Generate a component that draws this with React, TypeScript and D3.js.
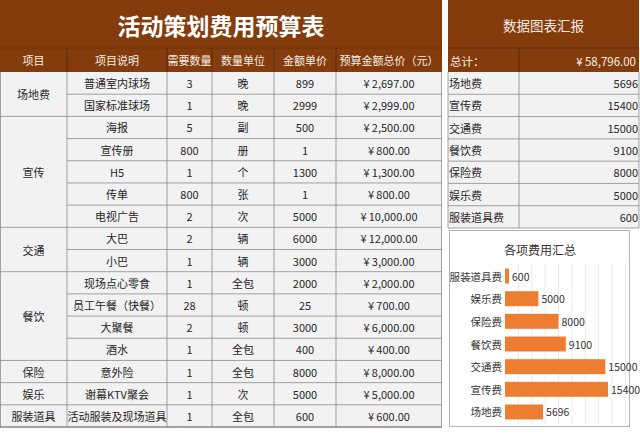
import React from 'react';
import * as d3 from 'd3';

const groups = ['场地费', '宣传', '交通', '餐饮', '保险', '娱乐', '服装道具'];
const groupSpans = [2, 5, 2, 4, 1, 1, 1];
const descriptions = ['普通室内球场', '国家标准球场', '海报', '宣传册', 'H5', '传单', '电视广告', '大巴', '小巴', '现场点心零食', '员工午餐（快餐）', '大聚餐', '酒水', '意外险', '谢幕KTV聚会', '活动服装及现场道具'];
const quantities = [3, 1, 5, 800, 1, 800, 2, 2, 1, 1, 28, 2, 1, 1, 1, 1];
const units = ['晚', '晚', '副', '册', '个', '张', '次', '辆', '辆', '全包', '顿', '顿', '全包', '全包', '次', '全包'];
const prices = [899, 2999, 500, 1, 1300, 1, 5000, 6000, 3000, 2000, 25, 3000, 400, 8000, 5000, 600];
const headers = ['项目', '项目说明', '需要数量', '数量单位', '金额单价', '预算金额总价（元）'];

const summaryLabels = ['场地费', '宣传费', '交通费', '餐饮费', '保险费', '娱乐费', '服装道具费'];
const summaryValues = [5696, 15400, 15000, 9100, 8000, 5000, 600];
const grandTotal = 58796;
const gridTicks = [2000, 4000, 6000, 8000, 10000, 12000, 14000, 16000, 18000];

const BROWN = '#843C0C';
const ORANGE = '#ED7D31';
const FONT = '"Noto Sans CJK SC", "Noto Sans", sans-serif';
const money = (v: number) => '¥\u2009' + d3.format(',.2f')(v);

export default function App() {
  const colX = [0, 67, 167, 212, 274, 336, 442];
  const rowTop = 72;
  const rowH = (427 - 72) / descriptions.length;
  const rowY = d3.range(descriptions.length + 1).map((i) => rowTop + i * rowH);
  const totals = quantities.map((q, i) => q * prices[i]);

  const groupStart: number[] = [];
  let acc = 0;
  groupSpans.forEach((s) => { groupStart.push(acc); acc += s; });

  const rpX0 = 448, rpX1 = 639, rpDiv = 519;
  const rpRowH = (228 - 72) / summaryLabels.length;

  const chartOrder = summaryLabels.slice().reverse();
  const y = d3.scaleBand<string>().domain(chartOrder).range([264.7, 423.3]).paddingInner(0.34).paddingOuter(0.17);
  const x = d3.scaleLinear().domain([0, 18000]).range([505, 625.4]);
  const valueOf = (l: string) => summaryValues[summaryLabels.indexOf(l)];

  const cell = { fontFamily: FONT, fontSize: 11, fill: '#262626' } as const;

  return (
    <svg width={640} height={440} style={{ position: 'absolute', left: 0, top: 0, background: '#fff' }} fontFamily={FONT}>
      <rect x={0} y={0} width={442} height={72} fill={BROWN} />
      <line x1={0} x2={442} y1={48} y2={48} stroke="#6e3009" strokeWidth={1} />
      <text x={221} y={25} textAnchor="middle" dominantBaseline="central" fill="#fff" fontSize={23} fontWeight="bold">活动策划费用预算表</text>
      {headers.map((h, i) => (
        <text key={h} x={(colX[i] + colX[i + 1]) / 2} y={60} textAnchor="middle" dominantBaseline="central" fill="#f6eee6" fontSize={11}>{h}</text>
      ))}
      {colX.slice(1, -1).map((cx, i) => (
        <line key={'hd' + i} x1={cx} x2={cx} y1={48} y2={72} stroke="#5e2906" strokeWidth={1} />
      ))}
      <rect x={0} y={rowTop} width={442} height={rowY[rowY.length - 1] - rowTop} fill="#F2F2F2" />
      {descriptions.map((d, i) => {
        const cy = (rowY[i] + rowY[i + 1]) / 2;
        const vals = [d, String(quantities[i]), units[i], String(prices[i]), money(totals[i])];
        return (
          <g key={'r' + i}>
            {vals.map((v, j) => (
              <text key={j} x={(colX[j + 1] + colX[j + 2]) / 2} y={cy} textAnchor="middle" dominantBaseline="central" {...cell}>{v}</text>
            ))}
            <line x1={colX[1]} x2={442} y1={rowY[i + 1]} y2={rowY[i + 1]} stroke="#8c8c8c" strokeWidth={0.8} />
          </g>
        );
      })}
      {groups.map((g, gi) => {
        const s = groupStart[gi];
        const e = s + groupSpans[gi];
        return (
          <g key={'g' + gi}>
            <text x={colX[1] / 2} y={(rowY[s] + rowY[e]) / 2} textAnchor="middle" dominantBaseline="central" {...cell}>{g}</text>
            <line x1={0} x2={colX[1]} y1={rowY[e]} y2={rowY[e]} stroke="#8c8c8c" strokeWidth={0.8} />
          </g>
        );
      })}
      {colX.slice(1, -1).map((cx, i) => (
        <line key={'bv' + i} x1={cx} x2={cx} y1={rowTop} y2={rowY[rowY.length - 1]} stroke="#8c8c8c" strokeWidth={0.8} />
      ))}
      <line x1={0.5} x2={0.5} y1={rowTop} y2={rowY[rowY.length - 1]} stroke="#8c8c8c" strokeWidth={0.8} />
      <line x1={441.5} x2={441.5} y1={rowTop} y2={rowY[rowY.length - 1]} stroke="#8c8c8c" strokeWidth={0.8} />
      <line x1={0} x2={442} y1={rowY[rowY.length - 1]} y2={rowY[rowY.length - 1]} stroke="#777" strokeWidth={1.2} />

      <rect x={rpX0} y={0} width={rpX1 - rpX0} height={72} fill={BROWN} />
      <line x1={rpX0} x2={rpX1} y1={48} y2={48} stroke="#5e2906" strokeWidth={1} />
      <line x1={rpDiv} x2={rpDiv} y1={48} y2={72} stroke="#5e2906" strokeWidth={1} />
      <text x={(rpX0 + rpX1) / 2} y={25} textAnchor="middle" dominantBaseline="central" fill="#f6eee6" fontSize={13.5}>数据图表汇报</text>
      <text x={rpX0 + 2} y={61} dominantBaseline="central" fill="#f6eee6" fontSize={11.5}>总计：</text>
      <text x={rpX1 - 3} y={61} textAnchor="end" dominantBaseline="central" fill="#f6eee6" fontSize={11.5}>{money(grandTotal)}</text>
      <rect x={rpX0} y={72} width={rpX1 - rpX0} height={rpRowH * summaryLabels.length} fill="#F2F2F2" />
      {summaryLabels.map((l, i) => {
        const y0 = 72 + i * rpRowH;
        return (
          <g key={'s' + i}>
            <text x={rpX0 + 1} y={y0 + rpRowH / 2} dominantBaseline="central" {...cell}>{l}</text>
            <text x={rpX1 - 1} y={y0 + rpRowH / 2} textAnchor="end" dominantBaseline="central" {...cell}>{summaryValues[i]}</text>
            <line x1={rpX0} x2={rpX1} y1={y0 + rpRowH} y2={y0 + rpRowH} stroke="#8c8c8c" strokeWidth={0.8} />
          </g>
        );
      })}
      <line x1={rpDiv} x2={rpDiv} y1={72} y2={228} stroke="#8c8c8c" strokeWidth={0.8} />
      <line x1={rpX1} x2={rpX1} y1={72} y2={228} stroke="#8c8c8c" strokeWidth={0.8} />
      <line x1={rpX0} x2={rpX0} y1={72} y2={228} stroke="#8c8c8c" strokeWidth={0.8} />

      <rect x={449.5} y={230.5} width={180} height={196} fill="#fff" stroke="#b3b3b3" strokeWidth={1} />
      <text x={540} y={249} textAnchor="middle" dominantBaseline="central" fill="#333" fontSize={12}>各项费用汇总</text>
      {gridTicks.map((t) => (
        <line key={'gt' + t} x1={x(t)} x2={x(t)} y1={263} y2={424} stroke="#e6e6e6" strokeWidth={0.8} />
      ))}
      {chartOrder.map((l) => {
        const v = valueOf(l);
        const by = y(l) as number;
        const cy = by + y.bandwidth() / 2;
        return (
          <g key={'b' + l}>
            <rect x={x(0)} y={by} width={x(v) - x(0)} height={y.bandwidth()} fill={ORANGE} />
            <text x={x(0) - 3} y={cy} textAnchor="end" dominantBaseline="central" fill="#333" fontSize={10.5}>{l}</text>
            <text x={x(v) + 3} y={cy} dominantBaseline="central" fill="#333" fontSize={10.5}>{v}</text>
          </g>
        );
      })}
    </svg>
  );
}
